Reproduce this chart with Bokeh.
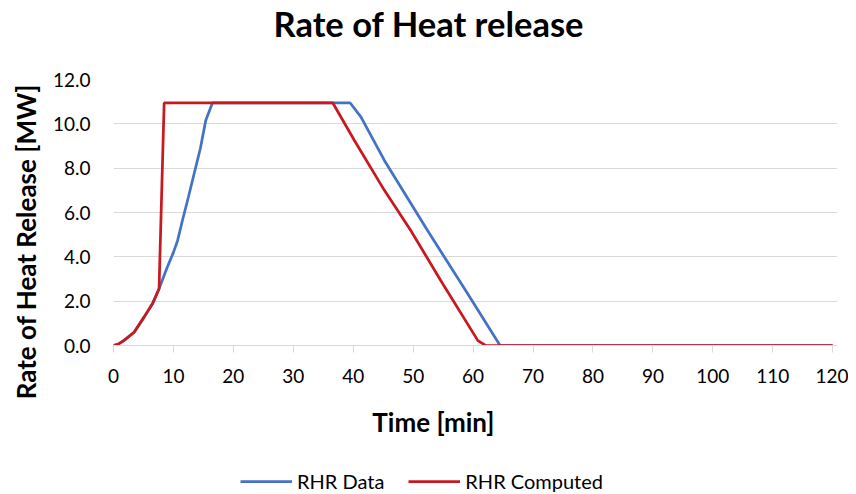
from bokeh.plotting import figure
from bokeh.models import Legend, LegendItem, Range1d, FixedTicker, NumeralTickFormatter, Title
from bokeh.layouts import column
from bokeh.embed import file_html
from bokeh.resources import INLINE

# RHR Data (blue)
data_t = [0, 0.8, 1.77, 3.44, 5.1, 6.5, 7.6, 9.0, 10.0, 10.7, 11.5, 12.5, 13.45, 14.5, 15.4, 16.5,
          39.5, 41.3, 45.2, 52.4, 59.1, 64.5, 120]
data_q = [0, 0.06, 0.23, 0.6, 1.28, 1.88, 2.56, 3.55, 4.2, 4.74, 5.64, 6.7, 7.75, 8.9, 10.16, 10.94,
          10.94, 10.3, 8.35, 5.19, 2.33, 0.0, 0.0]

# RHR Computed (red)
comp_t = [0, 0.8, 1.77, 3.44, 5.1, 6.5, 7.6, 8.45, 36.6, 40.2, 45.2, 49.6, 54.6, 60.8, 62.1, 120]
comp_q = [0, 0.06, 0.23, 0.6, 1.28, 1.88, 2.56, 10.94, 10.94, 9.25, 7.0, 5.19, 2.93, 0.22, 0.0, 0.0]

series_names = ["RHR Data", "RHR Computed"]
series_colors = ["#4472C4", "#C8191E"]

x_ticks = list(range(0, 121, 10))
y_ticks = [0, 2, 4, 6, 8, 10, 12]

FONT = "Lato"
GRID = "#d9d9d9"
EN = "\u2002"
NB = "\u00a0"

p = figure(frame_width=724, frame_height=266, output_backend="svg", toolbar_location=None,
           x_range=Range1d(0, 120.8), y_range=Range1d(0, 12),
           min_border_left=113, min_border_right=11, min_border_top=79, min_border_bottom=100)
p.outline_line_color = None

# main title (outer)
p.title.text = "Rate of Heat release"
p.title.align = "left"
p.title.offset = 160
p.title.text_font = FONT
p.title.text_font_size = "34.5px"
p.title.text_font_style = "bold"
p.title.text_color = "#000000"
p.title.standoff = 0

# spacer between title and plot area (inner)
p.add_layout(Title(text=NB, text_font_size="10px", standoff=23), "above")

l1 = p.line(data_t, data_q, line_color=series_colors[0], line_width=2.75)
l2 = p.line(comp_t, comp_q, line_color=series_colors[1], line_width=2.75)

p.xaxis.ticker = FixedTicker(ticks=x_ticks)
p.yaxis.ticker = FixedTicker(ticks=y_ticks)
p.yaxis.formatter = NumeralTickFormatter(format="0.0")

p.xgrid.grid_line_color = None
p.ygrid.grid_line_color = GRID
p.ygrid.grid_line_width = 1

for ax in (p.xaxis[0], p.yaxis[0]):
    ax.major_label_text_font = FONT
    ax.major_label_text_font_size = "19px"
    ax.major_label_text_color = "#000000"
    ax.axis_label_text_font = FONT
    ax.axis_label_text_font_style = "bold"
    ax.axis_label_text_color = "#000000"
    ax.minor_tick_line_color = None

p.xaxis.axis_label = "Time [min]" + EN * 6 + NB
p.xaxis.axis_label_text_font_size = "26px"
p.xaxis.axis_line_color = GRID
p.xaxis.major_tick_line_color = GRID
p.xaxis.major_tick_out = 7
p.xaxis.major_tick_in = 0
p.xaxis.major_label_standoff = 16
p.xaxis.axis_label_standoff = 20

p.yaxis.axis_label = "Rate of Heat Release [MW]" + EN * 4 + NB
p.yaxis.axis_label_text_font_size = "26px"
p.yaxis.axis_line_color = None
p.yaxis.major_tick_line_color = None
p.yaxis.major_tick_out = 0
p.yaxis.major_tick_in = 0
p.yaxis.major_label_standoff = 23
p.yaxis.axis_label_standoff = 8

# legend strip below the chart (its frame is aligned with the chart's frame)
lg = figure(width=848, height=49, output_backend="svg", toolbar_location=None,
            x_range=Range1d(0, 1), y_range=Range1d(0, 1),
            x_axis_location=None, y_axis_location=None,
            min_border_left=10, min_border_right=0, min_border_top=0, min_border_bottom=0)
lg.outline_line_color = None
lg.xgrid.grid_line_color = None
lg.ygrid.grid_line_color = None
items = []
for name, col in zip(series_names, series_colors):
    # legend-only renderer, placed outside the visible range
    r = lg.line([0, 1], [-1, -1], line_color=col, line_width=2.75)
    items.append(LegendItem(label=name, renderers=[r]))

legend = Legend(items=items, orientation="horizontal", location=(127, 1))
legend.label_text_font = FONT
legend.label_text_font_size = "20px"
legend.label_text_color = "#000000"
legend.glyph_width = 52
legend.label_standoff = 5
legend.spacing = 24
legend.padding = 0
legend.margin = 0
legend.border_line_color = None
legend.background_fill_alpha = 0
lg.add_layout(legend, "center")

open("out.html", "w").write(file_html(column(p, lg, spacing=0), INLINE))
